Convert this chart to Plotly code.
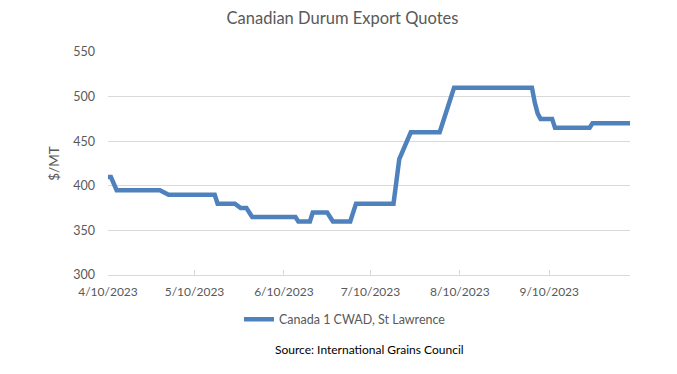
import plotly.graph_objects as go

# Data
dates = [
    "2023-04-10", "2023-04-11", "2023-04-13", "2023-04-28", "2023-05-01",
    "2023-05-17", "2023-05-18", "2023-05-24", "2023-05-26", "2023-05-28",
    "2023-05-30", "2023-06-14", "2023-06-15", "2023-06-19", "2023-06-20",
    "2023-06-25", "2023-06-27", "2023-07-03", "2023-07-05", "2023-07-18",
    "2023-07-19", "2023-07-20", "2023-07-22", "2023-07-24", "2023-08-03",
    "2023-08-05", "2023-08-06", "2023-08-08", "2023-09-04", "2023-09-05",
    "2023-09-06", "2023-09-07", "2023-09-11", "2023-09-12", "2023-09-24",
    "2023-09-25", "2023-10-08",
]
prices = [
    410, 410, 395, 395, 390,
    390, 380, 380, 375, 375,
    365, 365, 360, 360, 370,
    370, 360, 360, 380, 380,
    405, 430, 445, 460, 460,
    478, 490, 510, 510, 493,
    481, 475, 475, 465, 465,
    470, 470,
]
series_name = "Canada 1 CWAD, St Lawrence"
tick_dates = ["2023-04-10", "2023-05-10", "2023-06-10", "2023-07-10", "2023-08-10", "2023-09-10"]
tick_labels = ["4/10/2023", "5/10/2023", "6/10/2023", "7/10/2023", "8/10/2023", "9/10/2023"]
y_ticks = [300, 350, 400, 450, 500, 550]

FONT = "Lato, 'Open Sans', sans-serif"
GREY = "#595959"
GRID = "#d9d9d9"

fig = go.Figure()
fig.add_trace(go.Scatter(
    x=dates, y=prices, mode="lines", name=series_name,
    line=dict(color="#4f81bd", width=4.5),
))

# the page has an 8px body margin, so the figure is sized to fit the window
fig.update_layout(
    width=669, height=366,
    paper_bgcolor="white", plot_bgcolor="white",
    margin=dict(l=100, r=47, t=44, b=99, autoexpand=False),
    title=dict(text="Canadian Durum Export Quotes", x=0.5, xanchor="center",
               y=0.973, yanchor="middle",
               font=dict(family=FONT, size=16.5, color=GREY)),
    showlegend=True,
    legend=dict(orientation="h", x=0.454, xanchor="center", y=-0.20, yanchor="middle",
                font=dict(family=FONT, size=12.5, color=GREY)),
    font=dict(family=FONT, size=12, color=GREY),
)

fig.update_xaxes(
    type="date", range=["2023-04-10", "2023-10-08"],
    tickvals=tick_dates, ticktext=tick_labels,
    showgrid=False, showline=True, linecolor=GRID, linewidth=1,
    ticks="inside", ticklen=5, tickcolor=GRID,
    ticklabelstandoff=6,
    tickfont=dict(family=FONT, size=12, color=GREY),
    zeroline=False, fixedrange=True,
)
fig.update_yaxes(
    range=[300, 550], tickvals=y_ticks,
    showgrid=True, gridcolor=GRID, gridwidth=1,
    showline=False, zeroline=False,
    ticklabelstandoff=12,
    tickfont=dict(family=FONT, size=12.5, color=GREY),
    title=dict(text="$/MT", font=dict(family=FONT, size=13.5, color=GREY), standoff=10),
)

fig.add_annotation(
    text="Source: International Grains Council",
    xref="paper", yref="paper", x=0.5, xanchor="center",
    y=-0.336, yanchor="middle", showarrow=False,
    font=dict(family=FONT, size=12, color="#000000"),
)

fig.write_html("out.html")
